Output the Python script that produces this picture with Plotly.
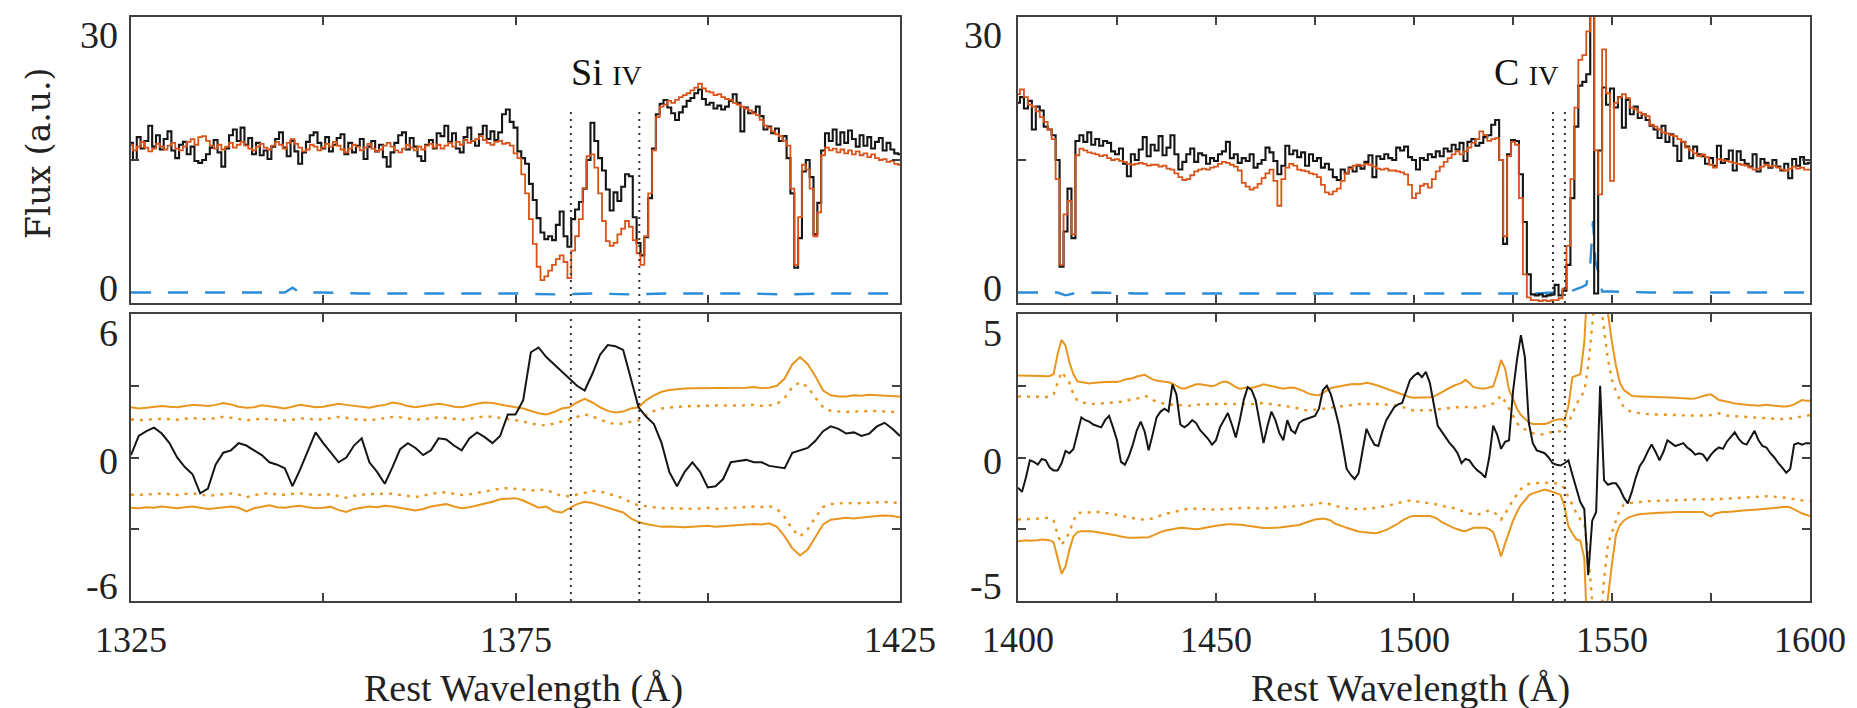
import numpy as np
import plotly.graph_objects as go

W, H = 1857, 708

# ---------------- Si IV panel (left) ----------------
si_start, si_step = 1325.0, 0.5
si_obs = [
    16.8, 15.0, 17.4, 16.2, 17.0, 18.6, 16.4, 17.6, 16.1, 17.2,
    18.0, 16.0, 15.2, 16.6, 16.9, 15.6, 16.4, 14.9, 14.7, 15.0,
    15.6, 16.3, 17.1, 15.8, 14.3, 16.2, 17.6, 18.2, 17.0, 18.4,
    16.6, 17.3, 15.6, 16.8, 15.5, 16.0, 15.1, 16.4, 17.2, 17.9,
    16.3, 15.4, 17.0, 15.9, 14.6, 15.8, 16.9, 17.6, 17.9, 16.8,
    16.2, 17.4, 15.9, 16.6, 17.3, 17.7, 15.6, 16.8, 15.8, 16.5,
    17.2, 15.1, 16.4, 17.0, 15.9, 16.6, 15.3, 14.3, 15.8, 16.8,
    17.6, 17.9, 16.1, 17.3, 16.4, 15.4, 14.9, 16.6, 17.1, 16.2,
    17.8, 17.5, 18.6, 16.9, 17.8, 16.2, 15.8, 17.4, 18.4, 17.0,
    16.5, 17.7, 18.6, 17.2, 18.0, 17.1, 17.9, 19.8, 20.3, 19.0,
    18.4, 15.9, 15.2, 14.6, 12.5, 10.8, 8.9, 7.4, 6.7, 7.0,
    6.6, 8.2, 9.6, 7.0, 5.9, 8.8, 9.8, 10.6, 12.0, 15.0,
    18.9, 17.0, 15.2, 13.9, 11.9, 9.7, 11.6, 10.7, 12.2, 13.5,
    13.3, 9.0, 6.3, 5.0, 6.9, 11.0, 16.2, 19.8, 20.9, 21.3,
    20.5, 19.9, 19.2, 20.0, 20.6, 21.2, 21.5, 22.0, 22.4, 21.4,
    20.8, 21.0, 20.4, 20.7, 20.3, 20.6, 21.2, 21.9, 21.0, 18.0,
    20.5, 19.9, 20.0, 20.6, 19.6, 18.2, 18.5, 17.8, 18.3, 17.0,
    17.5, 15.2, 11.5, 3.7, 6.8, 13.8, 15.0, 13.2, 7.2, 10.5,
    16.0, 17.8, 17.0, 18.2, 16.6, 17.9, 16.8, 18.1, 17.2, 16.4,
    17.6, 16.5, 17.4, 16.2, 16.9, 17.3, 16.0, 16.8, 16.1, 15.7,
    15.6,
]
si_model = [
    16.6, 16.0, 16.4, 16.9, 16.3, 15.9, 16.2, 16.7, 16.4, 16.1,
    16.5, 16.8, 16.2, 16.0, 16.4, 16.9, 17.2, 16.6, 17.4, 17.5,
    17.0, 16.5, 16.2, 16.6, 16.1, 16.4, 16.8, 16.3, 16.6, 16.9,
    16.5, 16.2, 16.0, 16.4, 16.7, 16.3, 16.1, 16.5, 16.9, 16.6,
    16.2, 16.8, 17.2, 16.7, 16.3, 15.9, 16.1, 16.6, 16.4, 16.0,
    16.3, 16.7, 16.4, 16.9, 16.5, 16.1, 15.8, 16.2, 16.6, 16.4,
    16.0, 16.3, 16.7, 16.2, 15.9, 16.1, 16.5, 16.8, 16.4, 16.0,
    15.8, 16.2, 16.6, 16.3, 16.0, 16.4, 16.1, 16.5, 16.7, 16.3,
    16.6, 16.2, 16.5, 16.8, 16.4, 16.9, 16.6, 17.1, 16.8, 17.0,
    17.2, 17.5, 17.1, 16.8, 16.6, 16.9, 17.0, 16.7, 16.8, 16.5,
    15.7, 15.2, 13.5, 11.5, 8.8, 6.2, 3.8, 2.4, 2.8, 3.4,
    4.0, 4.6, 5.0, 4.3, 2.6, 5.5, 7.0, 8.8, 12.0, 15.4,
    15.6, 14.2, 11.5, 8.6, 6.5, 6.0, 6.3, 7.2, 7.8, 8.6,
    8.0, 6.6, 5.2, 4.0, 7.0, 11.5, 16.0, 19.5, 20.6, 20.8,
    21.2, 21.0, 21.3, 21.6, 21.8, 22.0, 22.3, 22.6, 23.0, 22.5,
    22.2, 22.1, 21.8, 21.9, 21.6, 21.4, 21.3, 21.0, 20.8, 20.6,
    20.4, 20.2, 19.9, 19.7, 19.2, 18.6, 18.4, 18.0, 17.7, 17.5,
    17.0, 16.5, 12.0, 4.0, 9.0, 14.5, 14.0, 12.0, 7.0, 9.5,
    15.5, 16.3, 16.0, 16.2, 15.8, 16.1, 15.7, 16.0, 15.6, 15.9,
    15.5, 15.7, 15.3, 15.6, 15.2, 15.0, 15.1, 14.8, 14.9, 14.6,
    14.5,
]
si_err_wl = [1325, 1330, 1335, 1340, 1345, 1346, 1347, 1350, 1355, 1360, 1365,
             1370, 1375, 1380, 1385, 1390, 1395, 1400, 1405, 1410, 1415, 1420, 1425]
si_err = [1.1, 1.1, 1.1, 1.1, 1.1, 1.6, 1.1, 1.1, 1.0, 1.0, 1.0,
          1.0, 1.0, 0.9, 1.0, 0.9, 1.0, 1.0, 1.0, 0.9, 1.0, 1.0, 1.0]

si_res_start, si_res_step = 1325.0, 1.0
si_res = [
    0.1, 0.9, 1.1, 1.25, 1.0, 0.6, 0.0, -0.4, -0.7, -1.5,
    -1.3, -0.3, 0.2, 0.3, 0.6, 0.5, 0.3, 0.1, -0.2, -0.3,
    -0.45, -1.2, -0.5, 0.3, 1.05, 0.6, 0.2, -0.2, 0.0, 0.5,
    0.8, -0.2, -0.6, -1.1, -0.4, 0.35, 0.6, 0.4, 0.1, 0.3,
    0.8, 0.75, 0.5, 0.3, 0.8, 1.05, 0.85, 0.6, 0.9, 1.8,
    1.8, 2.4, 4.4, 4.6, 4.2, 3.9, 3.6, 3.3, 3.0, 2.8,
    3.5, 4.3, 4.7, 4.65, 4.5, 3.3, 2.1, 1.7, 1.4, 0.6,
    -0.6, -1.2, -0.6, -0.2, -0.6, -1.25, -1.2, -0.9, -0.2, -0.15,
    -0.1, -0.2, -0.2, -0.35, -0.4, -0.45, 0.2, 0.3, 0.4, 0.7,
    1.1, 1.3, 1.2, 1.0, 1.05, 0.9, 1.0, 1.3, 1.45, 1.2,
    0.9,
]
si_hi2 = [
    2.1, 2.05, 2.08, 2.1, 2.15, 2.12, 2.1, 2.15, 2.2, 2.18,
    2.15, 2.2, 2.28, 2.22, 2.12, 2.08, 2.1, 2.18, 2.15, 2.1,
    2.05, 2.12, 2.2, 2.15, 2.1, 2.12, 2.18, 2.25, 2.2, 2.15,
    2.1, 2.08, 2.15, 2.2, 2.3, 2.25, 2.15, 2.1, 2.15, 2.2,
    2.25, 2.2, 2.12, 2.1, 2.18, 2.25, 2.3, 2.28, 2.22, 2.15,
    2.1, 2.05, 1.95, 1.85, 1.8, 1.9, 2.05, 2.1, 2.3, 2.45,
    2.3, 2.1, 1.95, 1.88, 1.92, 2.05, 2.1, 2.4, 2.6, 2.75,
    2.82, 2.86, 2.88, 2.9, 2.9, 2.92, 2.9, 2.93, 2.92, 2.9,
    2.92, 2.95, 2.9, 2.92, 3.0, 3.3, 3.9, 4.2, 3.9, 3.4,
    2.8, 2.6, 2.55, 2.55, 2.6, 2.58, 2.62, 2.6, 2.58, 2.55,
    2.55,
]
si_hi1 = [
    1.6, 1.55, 1.58, 1.6, 1.62, 1.6, 1.58, 1.62, 1.65, 1.62,
    1.6, 1.65, 1.7, 1.66, 1.6, 1.56, 1.58, 1.63, 1.6, 1.58,
    1.55, 1.58, 1.64, 1.62, 1.58, 1.6, 1.65, 1.7, 1.66, 1.6,
    1.58, 1.56, 1.6, 1.64, 1.7, 1.68, 1.62, 1.58, 1.6, 1.64,
    1.68, 1.65, 1.6, 1.58, 1.62, 1.68, 1.72, 1.7, 1.66, 1.6,
    1.56, 1.5, 1.42, 1.36, 1.34, 1.42, 1.52, 1.58, 1.7, 1.8,
    1.72, 1.58, 1.46, 1.4, 1.42, 1.5, 1.55, 1.78, 1.95, 2.05,
    2.1, 2.12, 2.14, 2.15, 2.16, 2.18, 2.16, 2.18, 2.17, 2.16,
    2.18, 2.2, 2.16, 2.18, 2.24, 2.5, 2.95, 3.15, 2.95, 2.5,
    2.1, 1.95, 1.92, 1.9, 1.93, 1.92, 1.95, 1.93, 1.92, 1.9,
    1.9,
]
si_lo1 = [
    -1.55, -1.58, -1.52, -1.55, -1.5, -1.54, -1.57, -1.52, -1.5, -1.55,
    -1.6, -1.57, -1.55, -1.5, -1.55, -1.66, -1.57, -1.52, -1.48, -1.55,
    -1.56, -1.52, -1.5, -1.54, -1.57, -1.56, -1.53, -1.62, -1.68, -1.6,
    -1.56, -1.52, -1.54, -1.5, -1.52, -1.56, -1.62, -1.65, -1.6, -1.52,
    -1.48, -1.45, -1.52, -1.57, -1.54, -1.48, -1.45, -1.38, -1.3, -1.28,
    -1.3, -1.34, -1.38, -1.36, -1.34, -1.5, -1.6, -1.62, -1.55, -1.45,
    -1.4, -1.42, -1.5, -1.6, -1.7, -1.88, -2.0, -2.05, -2.1, -2.12,
    -2.12, -2.14, -2.16, -2.15, -2.13, -2.1, -2.15, -2.13, -2.1, -2.08,
    -2.07, -2.05, -2.07, -2.03, -2.15, -2.5, -3.0, -3.3, -3.0, -2.5,
    -2.07, -1.95, -1.92, -1.9, -1.92, -1.9, -1.88, -1.87, -1.86, -1.88,
    -1.9,
]
si_lo2 = [
    -2.1, -2.12, -2.08, -2.1, -2.05, -2.1, -2.12, -2.08, -2.05, -2.1,
    -2.15, -2.12, -2.1, -2.05, -2.1, -2.25, -2.12, -2.05, -2.0, -2.08,
    -2.1, -2.05, -2.02, -2.08, -2.12, -2.1, -2.06, -2.2, -2.28, -2.15,
    -2.1, -2.05, -2.08, -2.02, -2.05, -2.1, -2.18, -2.22, -2.15, -2.05,
    -2.0, -1.95, -2.05, -2.12, -2.08, -2.0, -1.95, -1.85, -1.75, -1.72,
    -1.7, -1.8, -1.95, -2.1, -2.05, -2.25, -2.3, -2.12, -1.95, -1.85,
    -1.9, -2.0, -2.1, -2.2, -2.3, -2.55, -2.7, -2.78, -2.85, -2.9,
    -2.88, -2.9, -2.92, -2.9, -2.88, -2.85, -2.9, -2.88, -2.85, -2.82,
    -2.8, -2.78, -2.8, -2.75, -2.9, -3.3, -3.8, -4.1, -3.85, -3.3,
    -2.8, -2.6, -2.55, -2.52, -2.55, -2.5, -2.48, -2.45, -2.42, -2.45,
    -2.5,
]
si_marks = [1382.2, 1391.1]

# ---------------- C IV panel (right) ----------------
c4_start, c4_step = 1400.0, 1.0
c4_obs = [
    21.0, 21.6, 20.4, 21.2, 18.2, 20.6, 20.2, 18.5, 18.2, 17.6,
    15.0, 3.8, 7.5, 12.0, 6.8, 17.0, 17.6, 16.9, 17.9, 16.6,
    17.2, 16.5, 17.0, 16.8, 15.9, 15.6, 16.2, 14.6, 13.3, 15.6,
    15.0, 16.1, 17.4, 15.4, 16.6, 16.0, 17.5, 15.5, 16.3, 17.6,
    15.6, 14.0, 14.8, 15.6, 16.2, 14.8, 15.7, 15.5, 14.6, 15.2,
    14.9, 15.6, 15.9, 16.9, 15.2, 15.6, 14.7, 15.2, 14.9, 15.6,
    14.2, 14.6, 15.0, 16.3, 15.8, 14.9, 13.5, 14.4, 16.5, 15.6,
    16.0, 15.3, 15.8, 14.4, 15.6, 14.9, 15.2, 14.2, 14.6, 14.0,
    13.2, 12.9, 14.0, 13.6, 14.2, 13.8, 14.4, 14.1, 14.8, 15.5,
    13.2, 15.4, 15.1, 15.6, 15.2, 15.0, 16.3, 16.0, 16.4, 15.3,
    15.0, 14.0, 15.2, 15.0, 15.6, 15.3, 15.9, 15.4, 16.2, 15.9,
    16.6, 16.1, 16.8, 14.9, 16.9, 17.2, 16.5, 16.8, 17.4, 17.6,
    18.7, 19.2, 15.0, 6.2, 15.6, 17.1, 17.0, 13.5, 8.5, 3.0,
    0.9, 0.8, 0.9, 0.7, 0.8, 0.9, 1.9, 0.8, 1.3, 4.0,
    11.0, 18.5, 22.8, 23.2, 24.0, 34.0, 1.0, 16.0, 22.6, 20.8,
    22.5, 20.5, 21.6, 18.4, 21.3, 19.8, 20.6, 19.4, 19.8, 19.2,
    18.6, 18.2, 17.3, 18.6, 16.9, 17.7, 16.5, 14.9, 16.9, 16.4,
    15.2, 16.4, 15.6, 15.4, 14.6, 15.2, 14.4, 16.5, 14.7, 15.1,
    16.0, 13.9, 15.9, 15.0, 14.6, 14.3, 15.6, 13.8, 15.1, 14.7,
    14.2, 15.0, 14.3, 13.9, 14.6, 13.1, 15.1, 14.4, 15.3, 14.6,
    14.7,
]
c4_model = [
    21.9, 22.4, 21.6, 20.8, 20.6, 20.1, 19.5, 19.0, 18.2, 17.2,
    13.0, 4.0, 9.3, 10.7, 7.2, 15.5, 16.2, 16.0, 15.8, 15.7,
    15.6, 15.4, 15.5, 15.2, 15.0, 15.1, 14.9, 14.8, 14.6, 14.5,
    14.6, 14.7, 14.6, 14.4, 14.5, 14.5, 14.3, 14.4, 14.1, 14.0,
    13.6, 13.2, 12.9, 13.0, 13.4, 13.8, 14.0, 14.1, 14.0, 14.2,
    14.3, 14.6, 14.8, 14.7, 14.5, 14.3, 13.9, 12.6, 12.2, 11.9,
    12.1, 12.5, 13.1, 13.6, 14.0, 12.8, 10.2, 13.0, 14.2, 14.6,
    14.4, 14.0, 13.9, 13.8, 13.6, 13.5, 13.2, 12.4, 11.6, 11.4,
    11.7, 12.0, 12.8, 13.6, 14.1, 14.4, 14.5, 14.4, 14.6, 14.5,
    14.3, 14.1, 14.0, 14.1, 13.9, 13.9, 13.8, 13.7, 13.5, 12.4,
    11.0, 11.5, 12.3, 12.5, 12.1, 13.0, 13.8, 14.3, 14.8, 15.2,
    15.6, 15.9, 15.6, 15.9, 16.3, 16.8, 17.2, 18.0, 17.6, 17.0,
    17.2, 17.3, 15.0, 7.0, 15.4, 16.9, 16.6, 11.0, 3.0, 0.6,
    0.3, 0.3, 0.2, 0.3, 0.2, 0.3, 0.3, 0.5, 1.5, 6.0,
    13.0, 20.5, 25.5, 26.0, 28.5, 34.0, 16.0, 11.4, 26.6, 22.0,
    12.8, 21.0, 21.6, 21.9, 21.5, 20.5, 20.3, 20.0, 19.8, 19.6,
    18.7, 18.5, 18.2, 17.9, 17.8, 17.6, 17.5, 17.2, 16.9, 16.3,
    16.0, 15.7, 15.4, 15.6, 15.3, 14.5, 14.2, 15.1, 15.0, 14.9,
    14.8, 14.7, 14.6, 14.5, 14.4, 14.2, 14.0, 14.1, 14.3, 14.5,
    14.3, 14.4, 14.2, 14.0, 13.9, 14.1, 14.3, 14.1, 14.2, 14.0,
    14.0,
]
c4_err_wl = [1400, 1405, 1410, 1412, 1414, 1420, 1430, 1440, 1450, 1460, 1470, 1480,
             1490, 1500, 1510, 1520, 1530, 1535, 1540, 1542, 1543.5, 1544.5, 1545.2,
             1545.8, 1546.5, 1547.5, 1550, 1560, 1570, 1580, 1590, 1600]
c4_err = [1.1, 1.1, 1.1, 0.8, 1.0, 1.1, 1.0, 1.0, 1.0, 1.0, 1.0, 1.0,
          1.0, 1.0, 1.0, 1.0, 1.0, 1.1, 1.3, 1.6, 1.9, 4.0, 8.6,
          4.4, 3.3, 1.2, 1.2, 1.1, 1.1, 1.1, 1.1, 1.1]

c4_res_start, c4_res_step = 1400.0, 1.0
c4_res = [
    -1.05, -1.2, -0.7, -0.1, -0.15, -0.25, -0.05, -0.1, -0.35, -0.45,
    -0.45, -0.2, 0.23, 0.15, 0.3, 0.9, 1.4, 1.3, 1.25, 1.15,
    1.1, 1.05, 1.3, 1.45, 1.05, 0.6, -0.15, -0.25, 0.05, 0.45,
    0.95, 1.25, 0.9, 0.25, 0.8, 1.4, 1.6, 1.7, 1.6, 2.55,
    2.2, 1.15, 1.05, 1.15, 1.3, 1.2, 0.95, 0.8, 0.65, 0.45,
    0.6, 1.05, 1.3, 1.55, 1.15, 0.7, 1.3, 2.0, 2.45, 2.35,
    2.0, 1.2, 0.5, 1.1, 1.6, 1.3, 0.85, 0.6, 1.3, 0.95,
    0.85, 1.2, 1.3, 1.35, 1.4, 1.45, 1.7, 2.35, 2.5, 2.2,
    1.7, 1.15, 0.4, -0.4, -0.6, -0.75, -0.55, 0.3, 1.0, 0.7,
    0.45, 0.4, 0.9, 1.3, 1.55, 1.75, 1.85, 1.9, 2.3, 2.7,
    2.85, 2.95, 2.8, 2.98, 2.6, 1.8, 1.1, 0.9, 0.7, 0.5,
    0.35, 0.15, -0.2, -0.05, -0.1, -0.3, -0.45, -0.55, -0.7, 0.0,
    1.11, 0.8, 0.3, 0.55, 0.6, 2.3, 3.4, 4.26, 3.5, 1.2,
    0.5, 0.25, 0.2, 0.15, 0.0, -0.2, -0.25, -0.28, -0.2, -0.1,
    -0.6, -1.1, -1.55, -1.8, -4.1, -2.2, -1.9, 2.5, -0.8, -0.95,
    -0.9, -0.9, -1.1, -1.4, -1.6, -1.2, -0.7, -0.3, -0.1, 0.2,
    0.45, 0.2, -0.1, 0.2, 0.6, 0.5, 0.4, 0.45, 0.5, 0.35,
    0.25, 0.1, 0.15, 0.1, -0.1, 0.1, 0.25, 0.35, 0.3, 0.55,
    0.7, 0.88, 0.65, 0.5, 0.45, 0.7, 0.93, 0.6, 0.4, 0.35,
    0.15, 0.0, -0.2, -0.35, -0.53, -0.4, 0.45, 0.5, 0.45, 0.5,
    0.5,
]
c4_hi2 = [
    2.86, 2.86, 2.85, 2.85, 2.84, 2.85, 2.84, 2.83, 2.84, 2.9,
    3.6, 4.1, 3.9, 3.3, 2.9, 2.65, 2.62, 2.6, 2.58, 2.6,
    2.62, 2.62, 2.63, 2.64, 2.64, 2.63, 2.66, 2.72, 2.75, 2.76,
    2.82, 2.86, 2.88, 2.8, 2.72, 2.68, 2.65, 2.64, 2.62, 2.58,
    2.5, 2.42, 2.4, 2.45, 2.5, 2.55, 2.55, 2.52, 2.5, 2.48,
    2.52, 2.6, 2.65, 2.62, 2.55, 2.45, 2.4, 2.42, 2.44, 2.42,
    2.45, 2.5, 2.55, 2.52, 2.5, 2.45, 2.42, 2.4, 2.42, 2.44,
    2.42, 2.38, 2.32, 2.25, 2.2, 2.18, 2.17, 2.25, 2.35, 2.42,
    2.45, 2.48, 2.5, 2.52, 2.55, 2.56, 2.55, 2.57, 2.6, 2.58,
    2.55, 2.5, 2.45, 2.4, 2.35, 2.3, 2.25, 2.2, 2.15, 2.1,
    2.08, 2.08, 2.08, 2.08, 2.1, 2.12, 2.2, 2.28, 2.35, 2.42,
    2.5, 2.55, 2.6, 2.71, 2.6, 2.45, 2.42, 2.4, 2.4, 2.44,
    2.48, 2.9, 3.4, 3.1, 2.35, 2.05, 1.7, 1.48, 1.35, 1.22,
    1.17, 1.17, 1.18, 1.17, 1.2, 1.28, 1.32, 1.34, 1.3, 1.8,
    2.8, 2.85, 2.9, 4.0, 8.0, 9.0, 9.0, 9.0, 7.0, 5.0,
    4.0, 3.2, 2.6, 2.35, 2.25, 2.15, 2.13, 2.12, 2.12, 2.12,
    2.12, 2.1, 2.1, 2.1, 2.1, 2.08, 2.08, 2.07, 2.06, 2.05,
    2.05, 2.06, 2.1, 2.15, 2.18, 2.2, 2.1, 2.0, 1.98, 1.96,
    1.92, 1.88, 1.86, 1.85, 1.84, 1.82, 1.82, 1.8, 1.82, 1.84,
    1.82, 1.8, 1.78, 1.78, 1.78, 1.8, 1.85, 1.93, 2.0, 1.98,
    1.98,
]
c4_hi1 = [
    2.13, 2.12, 2.13, 2.12, 2.12, 2.11, 2.12, 2.11, 2.12, 2.2,
    2.6, 2.98, 2.8, 2.6, 2.2, 1.98, 1.92, 1.9, 1.88, 1.87,
    1.87, 1.88, 1.9, 1.9, 1.9, 1.92, 1.94, 1.98, 2.0, 2.02,
    2.05, 2.1, 2.15, 2.1, 2.0, 1.95, 1.9, 1.87, 1.85, 1.84,
    1.82, 1.8, 1.8, 1.8, 1.82, 1.84, 1.85, 1.85, 1.86, 1.86,
    1.86, 1.87, 1.87, 1.86, 1.86, 1.86, 1.86, 1.87, 1.87, 1.86,
    1.87, 1.88, 1.9, 1.88, 1.86, 1.85, 1.84, 1.82, 1.8, 1.78,
    1.74, 1.7, 1.66, 1.64, 1.65, 1.66, 1.68, 1.7, 1.72, 1.74,
    1.76, 1.78, 1.8, 1.82, 1.84, 1.85, 1.86, 1.87, 1.87, 1.88,
    1.87, 1.86, 1.85, 1.85, 1.84, 1.82, 1.8, 1.76, 1.72, 1.66,
    1.64, 1.64, 1.64, 1.64, 1.64, 1.65, 1.68, 1.7, 1.72, 1.73,
    1.74, 1.75, 1.76, 1.76, 1.75, 1.74, 1.74, 1.76, 1.8, 1.85,
    1.88, 2.0, 2.16, 1.95, 1.7, 1.4, 1.2, 1.05, 0.98, 0.92,
    0.85, 0.82, 0.8, 0.82, 0.88, 0.88, 0.89, 0.92, 0.98, 1.2,
    1.52, 1.85, 2.1, 2.3, 3.2, 4.8, 6.0, 5.5, 4.5, 3.4,
    2.7, 2.3, 2.0, 1.75, 1.65, 1.58, 1.56, 1.54, 1.52, 1.52,
    1.5, 1.5, 1.5, 1.49, 1.49, 1.48, 1.48, 1.47, 1.47, 1.46,
    1.46, 1.45, 1.45, 1.45, 1.46, 1.48, 1.5, 1.54, 1.5, 1.46,
    1.45, 1.44, 1.42, 1.42, 1.41, 1.4, 1.4, 1.39, 1.38, 1.37,
    1.36, 1.35, 1.34, 1.34, 1.34, 1.36, 1.38, 1.4, 1.42, 1.45,
    1.48,
]
c4_lo1 = [
    -2.16, -2.16, -2.15, -2.15, -2.14, -2.13, -2.12, -2.12, -2.1, -2.2,
    -2.69, -3.04, -2.85, -2.6, -2.2, -1.93, -1.92, -1.91, -1.9, -1.9,
    -1.9, -1.9, -1.92, -1.95, -1.98, -2.0, -2.03, -2.06, -2.1, -2.12,
    -2.14, -2.16, -2.16, -2.15, -2.12, -2.08, -2.02, -1.97, -1.94, -1.9,
    -1.86, -1.83, -1.8, -1.78, -1.78, -1.78, -1.79, -1.8, -1.81, -1.82,
    -1.82, -1.81, -1.8, -1.79, -1.78, -1.77, -1.76, -1.75, -1.75, -1.76,
    -1.77, -1.78, -1.78, -1.77, -1.76, -1.75, -1.75, -1.74, -1.73, -1.72,
    -1.71, -1.7, -1.69, -1.67, -1.65, -1.62, -1.6, -1.58, -1.6, -1.64,
    -1.68, -1.72, -1.75, -1.77, -1.79, -1.8, -1.8, -1.8, -1.79, -1.78,
    -1.76, -1.74, -1.72, -1.7, -1.66, -1.62, -1.58, -1.55, -1.52, -1.5,
    -1.52, -1.53, -1.55, -1.57, -1.6, -1.62, -1.64, -1.68, -1.72, -1.74,
    -1.76, -1.8, -1.85, -1.9, -1.95, -1.98, -1.99, -1.95, -1.88, -1.85,
    -1.88, -2.0, -2.16, -1.95, -1.75, -1.45, -1.3, -1.1, -0.98, -0.92,
    -0.9, -0.88, -0.88, -0.88, -0.88, -0.88, -0.9, -1.0, -1.05, -1.4,
    -1.64, -1.95, -2.15, -2.3, -3.4, -5.0, -6.5, -6.0, -4.2, -3.0,
    -2.6, -2.2, -1.8, -1.65, -1.6, -1.58, -1.56, -1.55, -1.53, -1.52,
    -1.52, -1.51, -1.5, -1.5, -1.5, -1.49, -1.49, -1.48, -1.48, -1.47,
    -1.47, -1.46, -1.46, -1.46, -1.47, -1.47, -1.46, -1.45, -1.44, -1.43,
    -1.42, -1.41, -1.4, -1.39, -1.38, -1.37, -1.36, -1.35, -1.35, -1.35,
    -1.35, -1.36, -1.37, -1.38, -1.4, -1.42, -1.45, -1.48, -1.5, -1.52,
    -1.52,
]
c4_lo2 = [
    -2.92, -2.9, -2.88, -2.9, -2.9, -2.88, -2.86, -2.86, -2.88, -2.95,
    -3.5, -4.05, -3.8, -3.2, -2.75, -2.6, -2.57, -2.56, -2.57, -2.58,
    -2.6, -2.62, -2.65, -2.68, -2.7, -2.72, -2.75, -2.78, -2.8, -2.8,
    -2.8, -2.8, -2.8, -2.78, -2.72, -2.65, -2.6, -2.55, -2.52, -2.5,
    -2.46, -2.45, -2.46, -2.48, -2.5, -2.5, -2.48, -2.45, -2.42, -2.4,
    -2.38, -2.36, -2.34, -2.33, -2.33, -2.33, -2.34, -2.35, -2.38, -2.4,
    -2.43, -2.45, -2.46, -2.46, -2.46, -2.45, -2.44, -2.42, -2.4, -2.38,
    -2.36, -2.35, -2.3, -2.25, -2.2, -2.16, -2.14, -2.13, -2.15, -2.2,
    -2.3, -2.36, -2.4, -2.45, -2.5, -2.55, -2.58, -2.6, -2.62, -2.63,
    -2.64, -2.62, -2.58, -2.52, -2.45, -2.38, -2.3, -2.2, -2.12, -2.06,
    -2.04, -2.04, -2.04, -2.04, -2.04, -2.08, -2.15, -2.25, -2.32, -2.4,
    -2.45, -2.5, -2.55, -2.57, -2.52, -2.45, -2.45, -2.45, -2.45, -2.5,
    -2.6, -3.0, -3.45, -3.0, -2.6, -2.2, -1.9, -1.65, -1.5, -1.32,
    -1.25, -1.2, -1.15, -1.12, -1.15, -1.2, -1.25, -1.3, -1.7, -2.4,
    -2.65, -2.85, -2.9, -3.5, -7.0, -9.0, -9.0, -9.0, -6.0, -4.8,
    -3.7, -2.7, -2.35, -2.2, -2.1, -2.05, -2.0, -1.98, -1.96, -1.95,
    -1.94, -1.93, -1.93, -1.92, -1.92, -1.91, -1.9, -1.9, -1.9, -1.9,
    -1.88, -1.88, -1.88, -1.9, -2.0, -2.05, -1.95, -1.92, -1.9, -1.9,
    -1.88, -1.86, -1.86, -1.85, -1.85, -1.83, -1.82, -1.81, -1.8, -1.78,
    -1.76, -1.75, -1.74, -1.73, -1.72, -1.74, -1.8, -1.88, -1.95, -2.0,
    -2.04,
]
c4_marks = [1535.1, 1538.1]

# tick labels
si_xticks = [1325, 1375, 1425]
c4_xticks = [1400, 1450, 1500, 1550, 1600]
flux_ticks = ["30", "0"]
si_res_ticks = ["6", "0", "-6"]
c4_res_ticks = ["5", "0", "-5"]

# ---------------- styling ----------------
BLACK = "#151515"
RED = "#D95319"
BLUE = "#2B8CD8"
ORANGE = "#E8961E"
FRAME = "#404040"
SERIF = "Liberation Serif"


def grid(start, step, arr):
    return start + step * np.arange(len(arr))


def px_x(p):
    return p / W


def px_y(p):
    return 1 - p / H


fig = go.Figure()

TL, TR, BL, BR = ("x", "y"), ("x2", "y2"), ("x3", "y3"), ("x4", "y4")


def add(ax, x, y, **kw):
    fig.add_trace(go.Scatter(x=x, y=y, mode="lines", xaxis=ax[0], yaxis=ax[1],
                             showlegend=False, hoverinfo="skip", **kw))


# top panels
for ax, (st, sp), obs, mod, ewl, err in [
    (TL, (si_start, si_step), si_obs, si_model, si_err_wl, si_err),
    (TR, (c4_start, c4_step), c4_obs, c4_model, c4_err_wl, c4_err),
]:
    add(ax, ewl, err, line=dict(color=BLUE, width=2.4, dash="20px,17px"))
    add(ax, grid(st, sp, obs), obs, line=dict(color=BLACK, width=2.1, shape="hvh"))
    add(ax, grid(st, sp, mod), mod, line=dict(color=RED, width=1.8, shape="hvh"))

for ax, marks in [(TL, si_marks), (TR, c4_marks)]:
    for m in marks:
        add(ax, [m, m], [0, 20.5], line=dict(color="#333333", width=2, dash="2px,5px"))

# bottom panels
for ax, (st, sp), res, hi2, hi1, lo1, lo2, marks, lim in [
    (BL, (si_res_start, si_res_step), si_res, si_hi2, si_hi1, si_lo1, si_lo2, si_marks, 6),
    (BR, (c4_res_start, c4_res_step), c4_res, c4_hi2, c4_hi1, c4_lo1, c4_lo2, c4_marks, 5),
]:
    for env in (hi1, lo1):
        add(ax, grid(st, sp, env), env, line=dict(color=ORANGE, width=2.4, dash="3px,6px"))
    for env in (hi2, lo2):
        add(ax, grid(st, sp, env), env, line=dict(color=ORANGE, width=2))
    for m in marks:
        add(ax, [m, m], [-lim, lim], line=dict(color="#333333", width=2, dash="2px,5px"))
    add(ax, grid(st, sp, res), res, line=dict(color=BLACK, width=2))

# ---------------- layout ----------------
xL = [px_x(123), px_x(892)]
xR = [px_x(1010), px_x(1802)]
yT = [px_y(295), px_y(9)]
yB = [px_y(593), px_y(306)]

common = dict(showline=True, linecolor=FRAME, linewidth=2, mirror="ticks",
              ticks="inside", ticklen=8, tickwidth=2, tickcolor=FRAME,
              showgrid=False, zeroline=False, showticklabels=False)

fig.update_layout(
    width=W, height=H,
    margin=dict(l=0, r=0, t=0, b=0),
    paper_bgcolor="white", plot_bgcolor="white",
    xaxis=dict(domain=xL, anchor="y", range=[1325, 1425], tick0=1325, dtick=25, **common),
    yaxis=dict(domain=yT, anchor="x", range=[0, 30], tickvals=[15], **common),
    xaxis2=dict(domain=xR, anchor="y2", range=[1400, 1600], tick0=1400, dtick=25, **common),
    yaxis2=dict(domain=yT, anchor="x2", range=[0, 30], tickvals=[15], **common),
    xaxis3=dict(domain=xL, anchor="y3", range=[1325, 1425], tick0=1325, dtick=25, **common),
    yaxis3=dict(domain=yB, anchor="x3", range=[-6, 6], tickvals=[-3, 0, 3], **common),
    xaxis4=dict(domain=xR, anchor="y4", range=[1400, 1600], tick0=1400, dtick=25, **common),
    yaxis4=dict(domain=yB, anchor="x4", range=[-5, 5], tickvals=[-2.5, 0, 2.5], **common),
)

ann = []
tick_font = dict(family=SERIF, size=36, color="#222222")
for v in si_xticks:
    ann.append(dict(x=v, xref="x3", y=px_y(632), yref="paper", text=str(v),
                    showarrow=False, xanchor="center", yanchor="middle", font=tick_font))
for v in c4_xticks:
    ann.append(dict(x=v, xref="x4", y=px_y(632), yref="paper", text=str(v),
                    showarrow=False, xanchor="center", yanchor="middle", font=tick_font))

ytick_font = dict(family=SERIF, size=38, color="#222222")
for xr, labels, ys in [
    (112, flux_ticks, [27, 280]), (996, flux_ticks, [27, 280]),
    (112, si_res_ticks, [325, 453, 578]), (996, c4_res_ticks, [325, 453, 578]),
]:
    for t, yy in zip(labels, ys):
        ann.append(dict(x=px_x(xr), xref="paper", y=px_y(yy), yref="paper", text=t,
                        showarrow=False, xanchor="right", yanchor="middle", font=ytick_font))

title_font = dict(family=SERIF, size=38, color="#222222")
for cx in (515, 1402):
    ann.append(dict(x=px_x(cx), xref="paper", y=px_y(680), yref="paper",
                    text="Rest Wavelength (Å)", showarrow=False,
                    xanchor="center", yanchor="middle", font=title_font))

ann.append(dict(x=px_x(30), xref="paper", y=px_y(146), yref="paper", text="Flux (a.u.)",
                textangle=-90, showarrow=False, xanchor="center", yanchor="middle",
                font=dict(family="DejaVu Serif", size=33, color="#222222")))

lab_font = dict(family=SERIF, size=38, color="#111111")
ann.append(dict(x=px_x(598), xref="paper", y=px_y(64), yref="paper",
                text="Si <span style='font-size:28px'>IV</span>", showarrow=False,
                xanchor="center", yanchor="middle", font=lab_font))
ann.append(dict(x=px_x(1518), xref="paper", y=px_y(64), yref="paper",
                text="C <span style='font-size:28px'>IV</span>", showarrow=False,
                xanchor="center", yanchor="middle", font=lab_font))

fig.update_layout(annotations=ann)

fig.write_html("out.html")
